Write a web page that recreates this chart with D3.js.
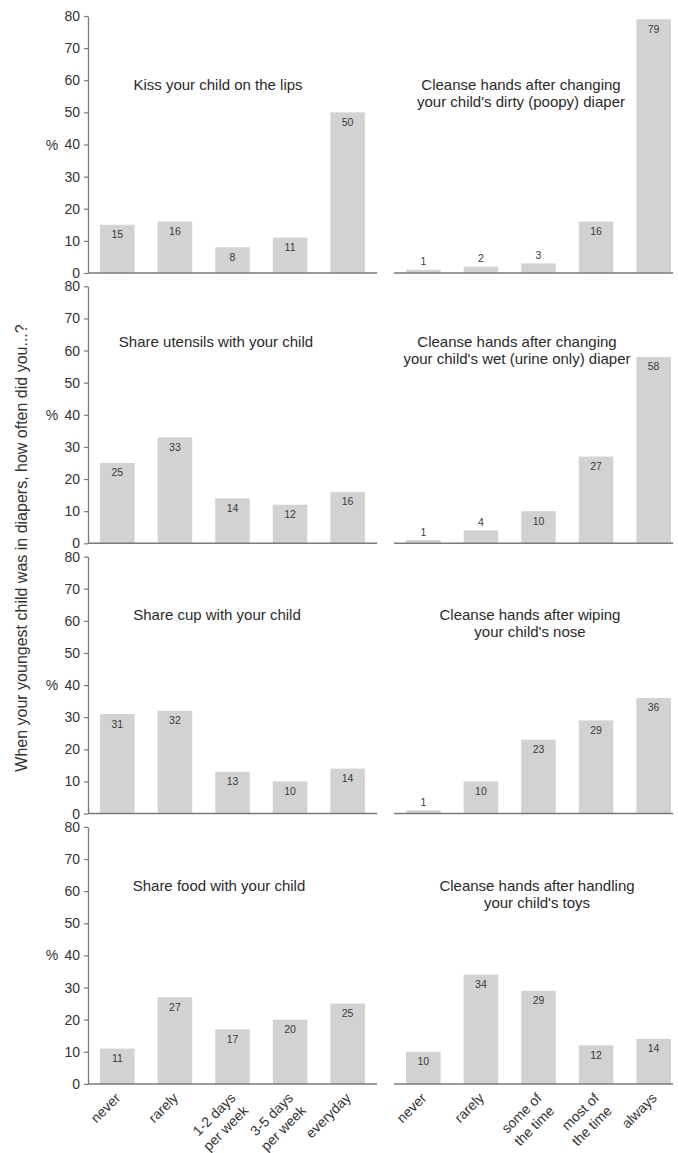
<!DOCTYPE html>
<html>
<head>
<meta charset="utf-8">
<script src="https://cdn.jsdelivr.net/npm/d3@7"></script>
<style>
  html, body { margin: 0; padding: 0; background: #fff; }
  svg { display: block; }
  text { font-family: "Liberation Sans", Arial, sans-serif; fill: #333; }
</style>
</head>
<body>
<svg id="chart" width="678" height="1153"></svg>
<script>
// ---------------- data ----------------
const leftCategories = ["never", "rarely", "1-2 days|per week", "3-5 days|per week", "everyday"];
const rightCategories = ["never", "rarely", "some of|the time", "most of|the time", "always"];

const leftTitles = [
  ["Kiss your child on the lips"],
  ["Share utensils with your child"],
  ["Share cup with your child"],
  ["Share food with your child"]
];
const rightTitles = [
  ["Cleanse hands after changing", "your child's dirty (poopy) diaper"],
  ["Cleanse hands after changing", "your child's wet (urine only) diaper"],
  ["Cleanse hands after wiping", "your child's nose"],
  ["Cleanse hands after handling", "your child's toys"]
];

const kissLips = [15, 16, 8, 11, 50];
const shareUtensils = [25, 33, 14, 12, 16];
const shareCup = [31, 32, 13, 10, 14];
const shareFood = [11, 27, 17, 20, 25];
const handsPoopy = [1, 2, 3, 16, 79];
const handsWet = [1, 4, 10, 27, 58];
const handsNose = [1, 10, 23, 29, 36];
const handsToys = [10, 34, 29, 12, 14];

const leftValues = [kissLips, shareUtensils, shareCup, shareFood];
const rightValues = [handsPoopy, handsWet, handsNose, handsToys];

const yTicks = [0, 10, 20, 30, 40, 50, 60, 70, 80];
const yLabel = "%";
const sideTitle = "When your youngest child was in diapers, how often did you...?";

// ---------------- layout ----------------
const svg = d3.select("#chart");
const panelTop0 = 16, panelStep = 270.3, panelH = 257;
const leftRange = [88, 377], rightRange = [394, 683], rightLineEnd = 673;
const leftTitleX = [218, 216, 217, 219];
const rightTitleX = [521, 517, 530, 537];
const titleDY = [74, 61, 63, 64];

const barColor = "#d2d2d2";
const axisColor = "#7a7a7a";

const xL = d3.scaleBand().domain(leftCategories).range(leftRange).paddingInner(0.4).paddingOuter(0.21);
const xR = d3.scaleBand().domain(rightCategories).range(rightRange).paddingInner(0.4).paddingOuter(0.21);

function drawPanel(g, x, cats, vals, y) {
  g.selectAll("rect.bar").data(vals).join("rect")
    .attr("class", "bar")
    .attr("x", (d, i) => x(cats[i]))
    .attr("width", x.bandwidth())
    .attr("y", d => y(d))
    .attr("height", d => y(0) - y(d))
    .attr("fill", barColor);

  g.selectAll("text.val").data(vals).join("text")
    .attr("class", "val")
    .attr("x", (d, i) => x(cats[i]) + x.bandwidth() / 2)
    .attr("y", d => d < 5 ? y(d) - 4.5 : y(d) + 13.5)
    .attr("text-anchor", "middle")
    .style("font-size", "10.5px")
    .style("fill", "#3a3a3a")
    .text(d => d);
}

for (let r = 0; r < 4; r++) {
  const top = panelTop0 + r * panelStep;
  const base = top + panelH;
  const y = d3.scaleLinear().domain([0, 80]).range([base, top]);

  // left panel
  const gl = svg.append("g");
  drawPanel(gl, xL, leftCategories, leftValues[r], y);

  const yAxis = d3.axisLeft(y).tickValues(yTicks).tickSize(4).tickPadding(4).tickSizeOuter(0);
  const ga = gl.append("g").attr("transform", `translate(${leftRange[0]},0)`).call(yAxis);
  ga.select(".domain").attr("stroke", axisColor).attr("stroke-width", 1.3);
  ga.selectAll(".tick line").attr("stroke", axisColor).attr("stroke-width", 1.2);
  ga.selectAll(".tick text").style("font-size", "14px").style("fill", "#333")
    .style("font-family", '"Liberation Sans", Arial, sans-serif');

  gl.append("line")
    .attr("x1", leftRange[0]).attr("x2", leftRange[1])
    .attr("y1", y(0)).attr("y2", y(0))
    .attr("stroke", axisColor).attr("stroke-width", 1.5);

  gl.append("text")
    .attr("x", 52).attr("y", y(40) + 5)
    .attr("text-anchor", "middle")
    .style("font-size", "14px")
    .text(yLabel);

  gl.append("text")
    .attr("text-anchor", "middle")
    .attr("x", leftTitleX[r])
    .attr("y", top + titleDY[r])
    .style("font-size", "15px")
    .style("fill", "#2a2a2a")
    .text(leftTitles[r][0]);

  // right panel
  const gr = svg.append("g");
  drawPanel(gr, xR, rightCategories, rightValues[r], y);
  gr.append("line")
    .attr("x1", rightRange[0]).attr("x2", rightLineEnd)
    .attr("y1", y(0)).attr("y2", y(0))
    .attr("stroke", axisColor).attr("stroke-width", 1.5);

  const rt = gr.append("text")
    .attr("text-anchor", "middle")
    .style("font-size", "15px")
    .style("fill", "#2a2a2a");
  rightTitles[r].forEach((line, i) => {
    rt.append("tspan")
      .attr("x", rightTitleX[r])
      .attr("y", top + titleDY[r] + i * 17)
      .text(line);
  });

  // category labels on bottom row
  if (r === 3) {
    [[xL, leftCategories], [xR, rightCategories]].forEach(([x, cats]) => {
      const t = svg.append("g").selectAll("text").data(cats).join("text")
        .attr("transform", d => `translate(${x(d) + x.bandwidth() / 2 + 4},${base + 15}) rotate(-45)`)
        .attr("text-anchor", "end")
        .style("font-size", "14px")
        .style("fill", "#333");
      t.each(function (d) {
        const lines = d.split("|");
        const sel = d3.select(this);
        lines.forEach((ln, i) => {
          sel.append("tspan").attr("x", 0).attr("y", i * 18).text(ln);
        });
      });
    });
  }
}

// side title
svg.append("text")
  .attr("transform", `translate(27,548) rotate(-90)`)
  .attr("text-anchor", "middle")
  .style("font-size", "16px")
  .style("fill", "#333")
  .text(sideTitle);
</script>
</body>
</html>
